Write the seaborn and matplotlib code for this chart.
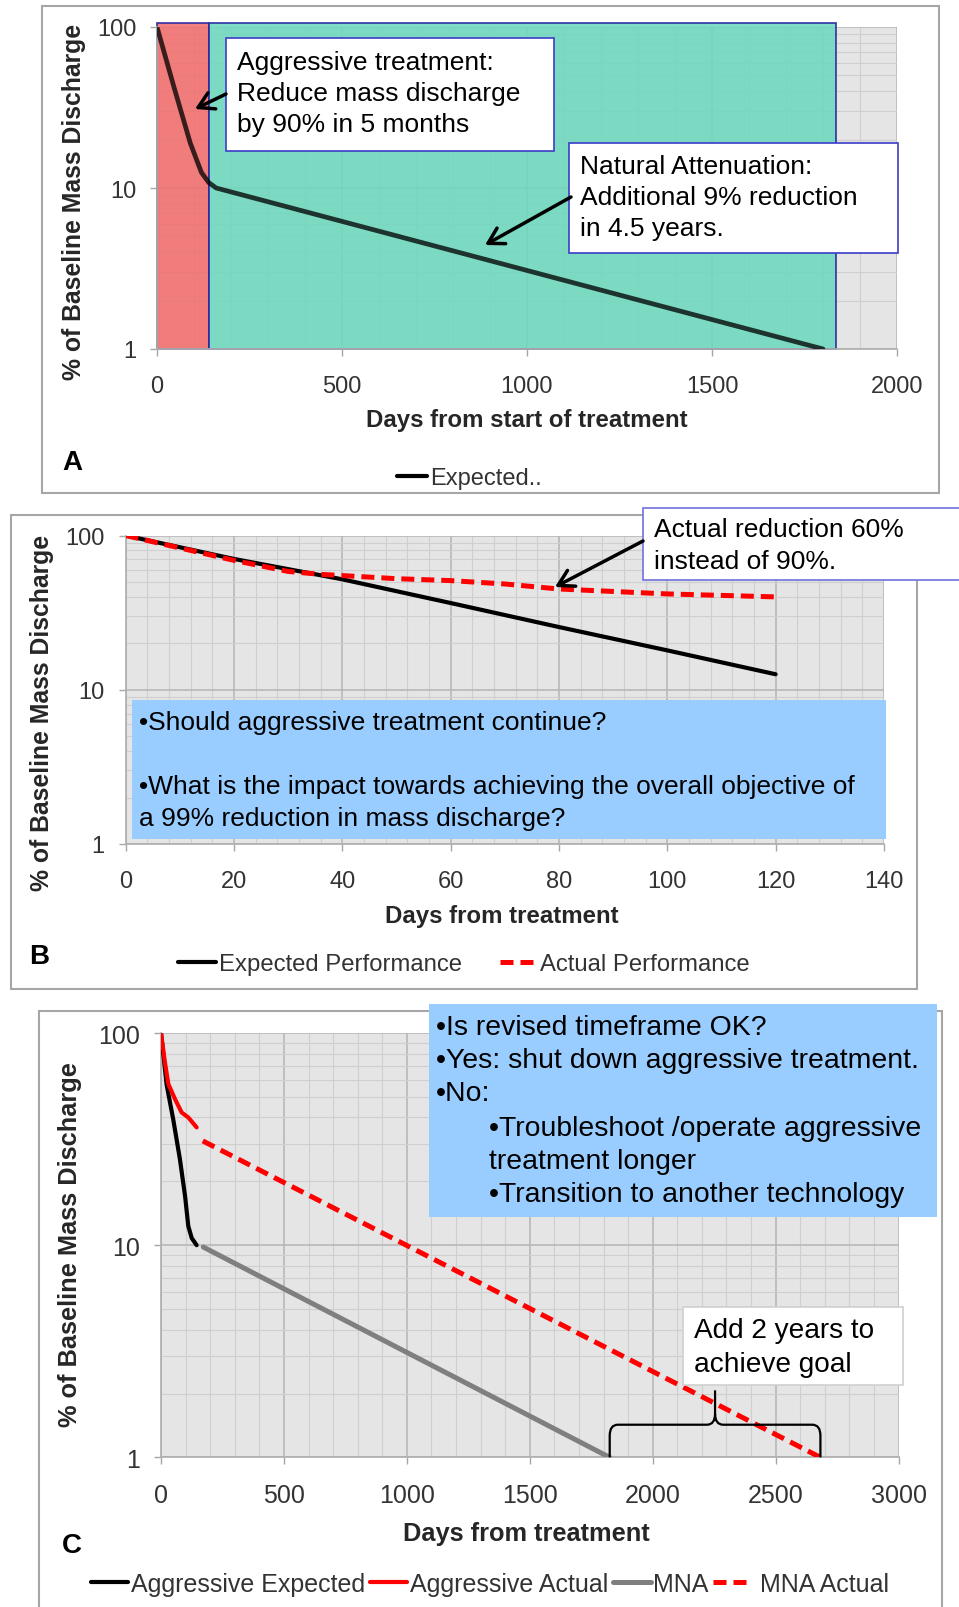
import matplotlib
matplotlib.use('Agg')
import matplotlib.pyplot as plt
import seaborn as sns
import numpy as np
from matplotlib.patches import Rectangle, PathPatch, FancyArrowPatch
from matplotlib.path import Path
from matplotlib.lines import Line2D
from matplotlib.ticker import FixedLocator, FixedFormatter, MultipleLocator, LogLocator, NullFormatter
import matplotlib.transforms as mtransforms

# Panel A - expected decline: aggressive phase, then natural attenuation
a_days = [0, 45, 90, 120, 140, 160, 1800]
a_expected = [100, 43, 19, 12.5, 10.8, 10.0, 1.0]
a_phase_start = [0, 140]
a_phase_end = [140, 1835]
a_phase_colors = ['#f26e6e', '#6ed8be']

# Panel B - first 120 days
b_exp_days = [0, 20, 40, 60, 80, 100, 120]
b_expected = [100, 70.5, 52, 36.5, 25.5, 18, 12.6]
b_act_days = [0, 20, 30, 36, 50, 60, 70, 80, 100, 120]
b_actual = [100, 69, 58.5, 56, 52.5, 51, 48.5, 45, 41.8, 40]

# Panel C - revised timeframe
c_aggr_days = [0, 23, 50, 77, 98, 111, 125, 145]
c_aggr_exp = [100, 57, 39, 25.4, 17, 12.3, 10.8, 10]
c_aggr_act_days = [0, 16, 30, 57, 84, 111, 145]
c_aggr_act = [100, 72.6, 57.4, 48.8, 42.2, 40, 35.9]
c_mna_days = [172, 1825]
c_mna = [9.8, 1.0]
c_mna_act_days = [170, 2682]
c_mna_act = [31, 1.0]

sns.set_theme(style='white')
plt.rcParams['font.family'] = ['Liberation Sans', 'DejaVu Sans']

W, H = 959, 1608
LS = 1.37  # line spacing of the callout texts
fig = plt.figure(figsize=(W / 100, H / 100), dpi=100)


def fx(x):
    return x / W


def fy(y):
    return 1 - y / H


def axes_px(x0, y0, x1, y1):
    return fig.add_axes([fx(x0), fy(y1), (x1 - x0) / W, (y1 - y0) / H])


def frame(x0, y0, x1, y1, fc='none', ec='#a6a6a6', lw=1.5, z=1):
    fig.add_artist(Rectangle((fx(x0), fy(y1)), (x1 - x0) / W, (y1 - y0) / H,
                             transform=fig.transFigure, fc=fc, ec=ec, lw=lw, zorder=z))


def label(x, y, s, size, **kw):
    fig.text(fx(x), fy(y), s, fontsize=size, transform=fig.transFigure, **kw)


def arrow(x0, y0, x1, y1):
    fig.add_artist(FancyArrowPatch((fx(x0), fy(y0)), (fx(x1), fy(y1)), transform=fig.transFigure,
                                   arrowstyle='->,head_length=0.55,head_width=0.32', mutation_scale=20,
                                   lw=2.5, color='black', shrinkA=0, shrinkB=0, zorder=6))


def style(ax, xmax, xmajor, xminor, fs):
    ax.set_yscale('log')
    ax.set_ylim(1, 100)
    ax.set_xlim(0, xmax)
    ax.set_facecolor('#e5e5e5')
    ax.xaxis.set_major_locator(MultipleLocator(xmajor))
    ax.xaxis.set_minor_locator(MultipleLocator(xminor))
    ax.yaxis.set_major_locator(FixedLocator([1, 10, 100]))
    ax.yaxis.set_major_formatter(FixedFormatter(['1', '10', '100']))
    ax.yaxis.set_minor_locator(LogLocator(base=10, subs=np.arange(2, 10)))
    ax.yaxis.set_minor_formatter(NullFormatter())
    ax.grid(which='major', color='#b4b4b4', lw=1.1)
    ax.grid(which='minor', color='#cfcfcf', lw=0.8)
    ax.set_axisbelow(True)
    ax.tick_params(which='major', length=5, width=1, color='#a6a6a6', labelsize=fs,
                   labelcolor='#333333', left=True, bottom=True)
    ax.tick_params(axis='x', which='major', pad=13.5)
    ax.tick_params(axis='y', which='major', pad=10)
    ax.tick_params(which='minor', length=0)
    for s in ['top', 'right']:
        ax.spines[s].set_visible(False)
    for s in ['left', 'bottom']:
        ax.spines[s].set_color('#b0b0b0')
    ax.set_xlabel('')
    ax.set_ylabel('')


# panel frames
frame(42, 7, 939, 494)
frame(11, 516, 917, 990)
frame(39, 1012, 942, 1640)

# ---------------- Panel A ----------------
axA = axes_px(157, 28, 897, 350)
for s0, s1, c in zip(a_phase_start, a_phase_end, a_phase_colors):
    axA.axvspan(s0, s1, ymin=0, ymax=1.013, fc=c, alpha=0.88, ec='#2828a0', lw=1.3,
                clip_on=False, zorder=2)
sns.lineplot(x=a_days, y=a_expected, ax=axA, color='black', alpha=0.76, lw=3.4,
             legend=False, zorder=4)
style(axA, 2000, 500, 100, 17)
label(74, 202, '% of Baseline Mass Discharge', 17.8, rotation=90, ha='center', va='center',
      fontweight='bold', color='#262626')
label(527, 420.5, 'Days from start of treatment', 17.3, ha='center', va='center',
      fontweight='bold', color='#262626')
label(72, 463, 'A', 20, ha='center', va='center', fontweight='bold', color='black')
fig.legend([Line2D([], [], color='black', lw=3)], ['Expected..'], loc='center',
           bbox_to_anchor=(fx(469), fy(479)), frameon=False, fontsize=17, handlelength=1.3,
           handletextpad=0.1, labelcolor='#333333')

frame(226, 39, 554, 152, fc='white', ec='#3c3cc8', lw=1.2, z=3)
label(237, 94, 'Aggressive treatment:\nReduce mass discharge\nby 90% in 5 months', 19,
      ha='left', va='center', color='black', linespacing=LS, zorder=4)
frame(569, 144, 898, 254, fc='white', ec='#3c3cc8', lw=1.2, z=3)
label(580, 198, 'Natural Attenuation:\nAdditional 9% reduction\nin 4.5 years.', 19,
      ha='left', va='center', color='black', linespacing=LS, zorder=4)
arrow(226, 95, 195, 110)
arrow(571, 198, 485, 246)

# ---------------- Panel B ----------------
axB = axes_px(125.5, 536.5, 884, 845)
sns.lineplot(x=b_exp_days, y=b_expected, ax=axB, color='black', lw=3, legend=False, zorder=3)
sns.lineplot(x=b_act_days, y=b_actual, ax=axB, color='#ff0000', lw=3.6,
             linestyle=(0, (2.6, 1.4)), legend=False, zorder=4)
style(axB, 140, 20, 4, 17)
label(42, 713, '% of Baseline Mass Discharge', 17.8, rotation=90, ha='center', va='center',
      fontweight='bold', color='#262626')
label(502, 917, 'Days from treatment', 17.3, ha='center', va='center',
      fontweight='bold', color='#262626')
label(39, 957, 'B', 20, ha='center', va='center', fontweight='bold', color='black')
fig.legend([Line2D([], [], color='black', lw=3),
            Line2D([], [], color='#ff0000', lw=3.6, linestyle=(0, (2.6, 1.4)))],
           ['Expected Performance', 'Actual Performance'], loc='center',
           bbox_to_anchor=(fx(464), fy(965)), frameon=False, fontsize=17.2, ncol=2,
           handlelength=1.6, handletextpad=0.1, columnspacing=1.6, labelcolor='#333333')

frame(132, 700.5, 886, 840, fc='#99ccff', ec='none', z=3)
label(139, 723, '\u2022Should aggressive treatment continue?', 19, ha='left', va='center',
      color='black', zorder=4)
label(139, 803, '\u2022What is the impact towards achieving the overall objective of\n'
      'a 99% reduction in mass discharge?', 19, ha='left', va='center', color='black',
      linespacing=LS, zorder=4)
frame(643, 509, 970, 581, fc='white', ec='#7070e0', lw=1.2, z=3)
label(654, 546, 'Actual reduction 60%\ninstead of 90%.', 19, ha='left', va='center',
      color='black', linespacing=LS, zorder=4)
arrow(643, 542, 555, 588)

# ---------------- Panel C ----------------
axC = axes_px(161, 1034, 898.6, 1458.4)
sns.lineplot(x=c_aggr_days, y=c_aggr_exp, ax=axC, color='black', lw=3, legend=False, zorder=3)
sns.lineplot(x=c_aggr_act_days, y=c_aggr_act, ax=axC, color='#ff0000', lw=3, legend=False, zorder=4)
sns.lineplot(x=c_mna_days, y=c_mna, ax=axC, color='#7f7f7f', lw=3.6, legend=False, zorder=3)
sns.lineplot(x=c_mna_act_days, y=c_mna_act, ax=axC, color='#ff0000', lw=3.6,
             linestyle=(0, (2.6, 1.4)), legend=False, zorder=4)
style(axC, 3000, 500, 100, 18)
label(70, 1245, '% of Baseline Mass Discharge', 18.3, rotation=90, ha='center', va='center',
      fontweight='bold', color='#262626')
label(526, 1534, 'Days from treatment', 18.3, ha='center', va='center',
      fontweight='bold', color='#262626')
label(72, 1546, 'C', 20, ha='center', va='center', fontweight='bold', color='black')
fig.legend([Line2D([], [], color='black', lw=3), Line2D([], [], color='#ff0000', lw=3),
            Line2D([], [], color='#7f7f7f', lw=3.6),
            Line2D([], [], color='#ff0000', lw=3.6, linestyle=(0, (2.6, 1.4)))],
           ['Aggressive Expected', 'Aggressive Actual', 'MNA', ' MNA Actual'], loc='center',
           bbox_to_anchor=(fx(490), fy(1585)), frameon=False, fontsize=18, ncol=4,
           handlelength=1.5, handletextpad=0.1, columnspacing=0.2, labelcolor='#333333')

# brace spanning the extra time needed to reach 1%
x0, x1 = c_mna_days[-1], c_mna_act_days[-1]
xm = (x0 + x1) / 2
rx, ry, h1, h2 = 33, 0.026, 0.077, 0.158
verts = [(x0, 0), (x0, h1 - ry), (x0, h1), (x0 + rx, h1), (xm - rx, h1), (xm, h1), (xm, h1 + ry), (xm, h2),
         (x1, 0), (x1, h1 - ry), (x1, h1), (x1 - rx, h1), (xm + rx, h1), (xm, h1), (xm, h1 + ry)]
codes = [Path.MOVETO, Path.LINETO, Path.CURVE3, Path.CURVE3, Path.LINETO, Path.CURVE3, Path.CURVE3, Path.LINETO,
         Path.MOVETO, Path.LINETO, Path.CURVE3, Path.CURVE3, Path.LINETO, Path.CURVE3, Path.CURVE3]
trans = mtransforms.blended_transform_factory(axC.transData, axC.transAxes)
axC.add_patch(PathPatch(Path(verts, codes), fc='none', ec='black', lw=1.6, transform=trans,
                        clip_on=False, zorder=5))

frame(429, 1005, 937, 1218, fc='#99ccff', ec='none', z=3)
label(436, 1061, '\u2022Is revised timeframe OK?\n\u2022Yes: shut down aggressive treatment.\n\u2022No:',
      20.4, ha='left', va='center', color='black', linespacing=1.34, zorder=4)
label(489, 1162, '\u2022Troubleshoot /operate aggressive\ntreatment longer\n\u2022Transition to another technology',
      20.4, ha='left', va='center', color='black', linespacing=1.34, zorder=4)
frame(683, 1308, 903, 1386, fc='white', ec='#d0d0d0', lw=1.2, z=3)
label(694, 1348, 'Add 2 years to\nachieve goal', 20.2, ha='left', va='center', color='black',
      linespacing=1.36, zorder=4)

fig.savefig('out.png', dpi=100, facecolor='white')
